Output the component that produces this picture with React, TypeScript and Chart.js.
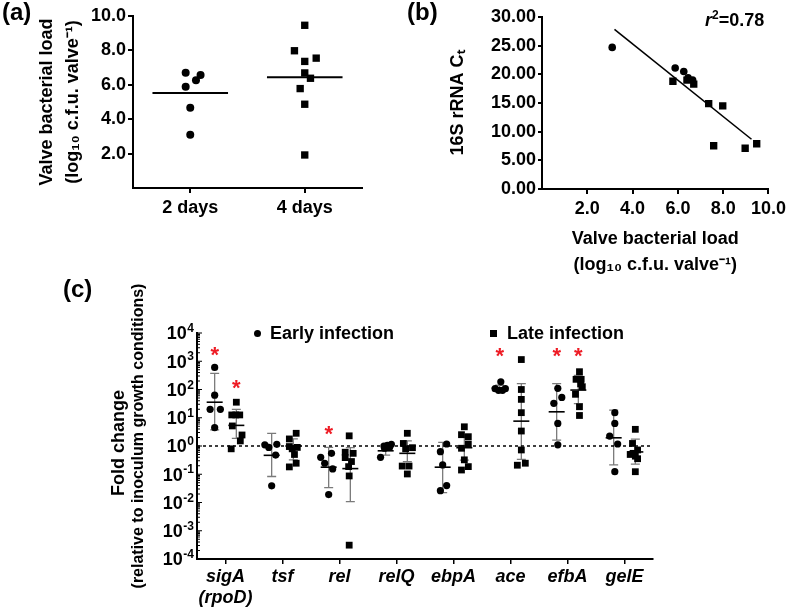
import React, { useEffect, useRef } from "react";
import { Chart, registerables } from "chart.js";

Chart.register(...registerables);

const FONT_FAMILY = "'Liberation Sans', Arial, Helvetica, sans-serif";
const STAR_RED = "#ee1c25";

// ---------------- Panel (a): valve bacterial load ----------------
const loadCategories = ["2 days", "4 days"];
const loadTwoDays = [6.7, 6.57, 6.26, 5.88, 4.66, 3.1];
const loadTwoDaysJitter = [-0.04, 0.09, 0.05, -0.04, 0, 0];
const loadFourDays = [9.46, 7.98, 7.55, 7.36, 6.69, 6.38, 5.78, 4.87, 1.92];
const loadFourDaysJitter = [0, -0.09, 0.1, 0, 0, 0.05, -0.04, 0, 0];
const loadTicks = [2, 4, 6, 8, 10];

// ---------------- Panel (b): 16S rRNA Ct vs load ----------------
const ctEarlyLoad = [3.1, 5.88, 6.26, 6.45, 6.65];
const ctEarlyValue = [24.7, 21.1, 20.5, 19.4, 19.0];
const ctLateLoad = [5.78, 6.4, 6.7, 7.36, 7.98, 7.58, 8.97, 9.48];
const ctLateValue = [18.8, 19.0, 18.3, 14.9, 14.5, 7.55, 7.1, 7.9];
const ctFitSlope = -3.17;
const ctFitIntercept = 38.0;
const ctFitRange = [3.2, 9.25];
const ctXTicks = [2, 4, 6, 8, 10];
const ctYTicks = [0, 5, 10, 15, 20, 25, 30];
const rSquared = "0.78";

// ---------------- Panel (c): fold change (log10 values) ----------------
const genes = ["sigA", "tsf", "rel", "relQ", "ebpA", "ace", "efbA", "gelE"];
const geneSecondLine = ["(rpoD)", "", "", "", "", "", "", ""];
const earlyLog10 = [
  [2.78, 1.8, 1.3, 1.3, 0.65],
  [0.04, -0.05, 0.06, -0.32, -1.41],
  [-0.26, -0.4, -0.61, -0.81, -1.72],
  [0.06, 0.02, 0.0, -0.04, -0.08, -0.4],
  [0.07, -0.2, -0.67, -1.4, -1.58],
  [2.27, 2.03, 1.97, 1.97, 2.03],
  [2.04, 1.72, 1.51, 0.8, 0.04],
  [1.18, 0.8, 0.35, 0.07, -0.91],
];
const earlyJitter = [
  [0, 0, -0.08, 0.1, 0],
  [-0.12, -0.05, 0.09, 0.07, 0],
  [0.05, -0.14, -0.07, 0.07, 0],
  [0.1, 0.03, -0.03, 0.07, -0.02, -0.09],
  [0.07, -0.04, 0, 0.07, -0.04],
  [0.02, -0.08, -0.02, 0.05, 0.1],
  [0.02, 0.09, -0.05, 0.02, 0.02],
  [0.02, 0.02, -0.07, 0.07, 0.02],
];
const lateLog10 = [
  [1.55, 1.1, 1.1, 1.1, 0.71, 0.39, 0.18, -0.1],
  [0.45, 0.25, -0.02, -0.05, -0.1, -0.3, -0.61, -0.74],
  [0.36, -0.22, -0.26, -0.41, -0.55, -0.73, -1.06, -3.51],
  [0.45, 0.09, -0.06, -0.1, -0.71, -0.71, -0.99],
  [0.68, 0.4, 0.33, 0.07, -0.08, -0.49, -0.73, -0.85],
  [3.06, 2.0, 1.65, 1.18, 0.53, -0.14, -0.61, -0.68],
  [2.63, 2.36, 2.36, 2.2, 2.1, 1.83, 1.39, 1.08],
  [0.59, 0.09, -0.14, -0.26, -0.36, -0.3, -0.45, -0.91],
];
const lateJitter = [
  [0, -0.08, -0.01, 0.06, -0.07, 0.1, 0.07, -0.09],
  [0.05, -0.07, -0.07, 0.07, -0.02, 0.02, 0.05, -0.07],
  [-0.02, -0.09, 0.05, -0.09, 0.02, -0.03, -0.02, -0.02],
  [0, -0.07, 0.09, -0.03, -0.09, 0.03, 0],
  [0, -0.05, 0.07, 0.07, -0.05, 0, 0.07, -0.05],
  [0, 0, 0, 0, 0, 0, 0.07, -0.07],
  [0.02, -0.04, 0.05, 0.04, 0.07, -0.05, 0.02, 0.02],
  [0, -0.05, 0.04, -0.04, 0, -0.09, 0.04, 0],
];
const earlyMeanLog10 = [1.55, -0.33, -0.75, -0.17, -0.75, 2.05, 1.21, 0.29];
const earlyLowLog10 = [0.57, -1.08, -1.47, -0.32, -1.65, 1.98, 0.21, -0.67];
const earlyHighLog10 = [2.57, 0.45, -0.05, 0.0, 0.13, 2.15, 2.21, 1.27];
const lateMeanLog10 = [0.73, 0.0, -0.8, -0.26, -0.06, 0.88, 1.98, -0.21];
const lateLowLog10 = [0.27, -0.49, -1.97, -0.55, -0.5, -0.47, 1.5, -0.64];
const lateHighLog10 = [1.3, 0.25, -0.06, 0.18, 0.4, 2.21, 2.5, 0.24];
const starGene = [0, 0, 2, 5, 6, 6];
const starGroup = ["early", "late", "early", "early", "early", "late"];
const starLog10 = [3.42, 2.24, 0.62, 3.39, 3.39, 3.39];
const foldTicksLog10 = [-4, -3, -2, -1, 0, 1, 2, 3, 4];
const GROUP_OFFSET = 0.19;

// ---------------- shared styling helpers ----------------
const tickFont: any = { family: FONT_FAMILY, size: 18, weight: "bold" };
const titleFont: any = { family: FONT_FAMILY, size: 18, weight: "bold", lineHeight: 1.45 };
const axisBorder = { display: true, color: "#000", width: 2 };
const outwardGrid = (len: number, width = 2) => ({
  display: true,
  drawOnChartArea: false,
  drawTicks: len > 0,
  tickLength: len,
  color: "#000",
  lineWidth: width,
});
const fixedTicks = (values: number[]) => (axis: any) => {
  axis.ticks = values.map((value) => ({ value }));
};
const mean = (arr: number[]) => arr.reduce((s, v) => s + v, 0) / arr.length;
const SUP: Record<string, string> = { "-": "⁻", "0": "⁰", "1": "¹", "2": "²", "3": "³", "4": "⁴" };
const toSuper = (n: number) => String(n).split("").map((c) => SUP[c] || c).join("");
const baseOptions = {
  responsive: false,
  animation: false,
  devicePixelRatio: 1,
  events: [],
};

// ---------------- Panel (a) ----------------
function buildLoadChart(): any {
  const m2 = mean(loadTwoDays);
  const m4 = mean(loadFourDays);
  return {
    type: "scatter",
    data: {
      datasets: [
        {
          label: loadCategories[0],
          data: loadTwoDays.map((v, i) => ({ x: 0.5 + loadTwoDaysJitter[i], y: v })),
          pointStyle: "circle",
          pointRadius: 4,
          backgroundColor: "#000",
          borderColor: "#000",
          borderWidth: 0,
        },
        {
          label: loadCategories[1],
          data: loadFourDays.map((v, i) => ({ x: 1.5 + loadFourDaysJitter[i], y: v })),
          pointStyle: "rect",
          pointRadius: 5.2,
          backgroundColor: "#000",
          borderColor: "#000",
          borderWidth: 0,
        },
        {
          label: "mean 2 days",
          data: [{ x: 0.5 - 0.33, y: m2 }, { x: 0.5 + 0.33, y: m2 }],
          showLine: true,
          borderColor: "#000",
          borderWidth: 2,
          pointRadius: 0,
        },
        {
          label: "mean 4 days",
          data: [{ x: 1.5 - 0.33, y: m4 }, { x: 1.5 + 0.33, y: m4 }],
          showLine: true,
          borderColor: "#000",
          borderWidth: 2,
          pointRadius: 0,
        },
      ],
    },
    options: {
      ...baseOptions,
      layout: { padding: { top: 16, right: 18, bottom: 0, left: 0 } },
      plugins: { legend: { display: false }, tooltip: { enabled: false } },
      scales: {
        x: {
          type: "linear",
          min: 0,
          max: 2,
          afterBuildTicks: fixedTicks([0.5, 1.5]),
          afterFit: (ax: any) => { ax.height = 52; },
          ticks: {
            callback: (v: number) => loadCategories[Math.round(v - 0.5)],
            font: tickFont, color: "#000", padding: 4, maxRotation: 0, minRotation: 0, autoSkip: false,
          },
          grid: outwardGrid(5),
          border: axisBorder,
        },
        y: {
          type: "linear",
          min: 0,
          max: 10,
          afterBuildTicks: fixedTicks(loadTicks),
          afterFit: (ax: any) => { ax.width = 133; },
          ticks: {
            callback: (v: number) => Number(v).toFixed(1),
            font: tickFont, color: "#000", padding: 2, autoSkip: false,
          },
          grid: outwardGrid(5),
          border: axisBorder,
          title: {
            display: true,
            text: ["Valve bacterial load", "(log₁₀ c.f.u. valve⁻¹)"],
            font: titleFont,
            color: "#000",
            padding: { top: 34, bottom: 0 },
          },
        },
      },
    },
  };
}

// ---------------- Panel (b) ----------------
function buildCtChart(): any {
  return {
    type: "scatter",
    data: {
      datasets: [
        {
          label: "Early infection",
          data: ctEarlyLoad.map((x, i) => ({ x, y: ctEarlyValue[i] })),
          pointStyle: "circle",
          pointRadius: 3.8,
          backgroundColor: "#000",
          borderColor: "#000",
          borderWidth: 0,
        },
        {
          label: "Late infection",
          data: ctLateLoad.map((x, i) => ({ x, y: ctLateValue[i] })),
          pointStyle: "rect",
          pointRadius: 5.2,
          backgroundColor: "#000",
          borderColor: "#000",
          borderWidth: 0,
        },
        {
          label: "Linear fit",
          data: ctFitRange.map((x) => ({ x, y: ctFitIntercept + ctFitSlope * x })),
          showLine: true,
          borderColor: "#000",
          borderWidth: 1.6,
          pointRadius: 0,
        },
      ],
    },
    options: {
      ...baseOptions,
      layout: { padding: { top: 17, right: 18, bottom: 0, left: 0 } },
      plugins: { legend: { display: false }, tooltip: { enabled: false } },
      scales: {
        x: {
          type: "linear",
          min: 0,
          max: 10,
          afterBuildTicks: fixedTicks(ctXTicks),
          afterFit: (ax: any) => { ax.height = 101; },
          ticks: {
            callback: (v: number) => Number(v).toFixed(1),
            font: tickFont, color: "#000", padding: 4, maxRotation: 0, minRotation: 0, autoSkip: false,
          },
          grid: outwardGrid(5),
          border: axisBorder,
          title: {
            display: true,
            text: ["Valve bacterial load", "(log₁₀ c.f.u. valve⁻¹)"],
            font: titleFont,
            color: "#000",
            padding: { top: 0, bottom: 12 },
          },
        },
        y: {
          type: "linear",
          min: 0,
          max: 30,
          afterBuildTicks: fixedTicks(ctYTicks),
          afterFit: (ax: any) => { ax.width = 162; },
          ticks: {
            callback: (v: number) => Number(v).toFixed(2),
            font: tickFont, color: "#000", padding: 2, autoSkip: false,
          },
          grid: outwardGrid(4),
          border: axisBorder,
          title: {
            display: true,
            text: "16S rRNA Cₜ",
            font: titleFont,
            color: "#000",
            padding: { top: 65, bottom: 0 },
          },
        },
      },
    },
  };
}

// ---------------- Panel (c) ----------------
const groupSummaryPlugin = {
  id: "groupSummary",
  beforeDatasetsDraw(chart: any) {
    const { ctx } = chart;
    const x = chart.scales.x;
    const y = chart.scales.y;
    const groups = [
      { offset: -GROUP_OFFSET, m: earlyMeanLog10, lo: earlyLowLog10, hi: earlyHighLog10 },
      { offset: GROUP_OFFSET, m: lateMeanLog10, lo: lateLowLog10, hi: lateHighLog10 },
    ];
    ctx.save();
    groups.forEach((g) => {
      genes.forEach((_, i) => {
        const cx = x.getPixelForValue(i + 0.5 + g.offset);
        const yLo = y.getPixelForValue(10 ** g.lo[i]);
        const yHi = y.getPixelForValue(10 ** g.hi[i]);
        const yM = y.getPixelForValue(10 ** g.m[i]);
        ctx.strokeStyle = "#7a7a7a";
        ctx.lineWidth = 1.3;
        ctx.beginPath();
        ctx.moveTo(cx, yLo);
        ctx.lineTo(cx, yHi);
        ctx.moveTo(cx - 4.5, yLo);
        ctx.lineTo(cx + 4.5, yLo);
        ctx.moveTo(cx - 4.5, yHi);
        ctx.lineTo(cx + 4.5, yHi);
        ctx.stroke();
        ctx.strokeStyle = "#000";
        ctx.lineWidth = 1.6;
        ctx.beginPath();
        ctx.moveTo(cx - 8, yM);
        ctx.lineTo(cx + 8, yM);
        ctx.stroke();
      });
    });
    ctx.restore();
  },
};

const starsPlugin = {
  id: "significanceStars",
  afterDatasetsDraw(chart: any) {
    const { ctx } = chart;
    const x = chart.scales.x;
    const y = chart.scales.y;
    const size = 22;
    ctx.save();
    ctx.fillStyle = STAR_RED;
    ctx.font = `bold ${size}px ${FONT_FAMILY}`;
    ctx.textAlign = "center";
    ctx.textBaseline = "alphabetic";
    starGene.forEach((gi, k) => {
      const off = starGroup[k] === "early" ? -GROUP_OFFSET : GROUP_OFFSET;
      const px = x.getPixelForValue(gi + 0.5 + off);
      const py = y.getPixelForValue(10 ** starLog10[k]);
      ctx.fillText("*", px, py + 0.58 * size);
    });
    ctx.restore();
  },
};

// inward major/minor ticks and power-of-ten labels with true superscripts
const logAxisPlugin = {
  id: "logAxisDecor",
  afterDraw(chart: any) {
    const { ctx, chartArea } = chart;
    const y = chart.scales.y;
    ctx.save();
    ctx.strokeStyle = "#000";
    ctx.lineWidth = 1.2;
    ctx.beginPath();
    foldTicksLog10.forEach((e, idx) => {
      const py = y.getPixelForValue(10 ** e);
      ctx.moveTo(chartArea.left, py);
      ctx.lineTo(chartArea.left + 5, py);
      if (idx < foldTicksLog10.length - 1) {
        for (let k = 2; k <= 9; k++) {
          const pm = y.getPixelForValue(k * 10 ** e);
          ctx.moveTo(chartArea.left, pm);
          ctx.lineTo(chartArea.left + 3, pm);
        }
      }
    });
    ctx.stroke();

    ctx.fillStyle = "#000";
    ctx.textBaseline = "alphabetic";
    ctx.textAlign = "left";
    const right = chartArea.left - 3;
    foldTicksLog10.forEach((e) => {
      const py = y.getPixelForValue(10 ** e);
      const expText = String(e);
      ctx.font = `bold 12px ${FONT_FAMILY}`;
      const expW = ctx.measureText(expText).width;
      ctx.font = `bold 18px ${FONT_FAMILY}`;
      const baseW = ctx.measureText("10").width;
      const startX = right - expW - baseW - 0.5;
      ctx.fillText("10", startX, py + 6.4);
      ctx.font = `bold 12px ${FONT_FAMILY}`;
      ctx.fillText(expText, startX + baseW + 0.5, py - 1);
    });
    ctx.restore();
  },
};

function buildFoldChart(): any {
  const early = earlyLog10.flatMap((vals, i) =>
    vals.map((v, j) => ({ x: i + 0.5 - GROUP_OFFSET + earlyJitter[i][j], y: 10 ** v }))
  );
  const late = lateLog10.flatMap((vals, i) =>
    vals.map((v, j) => ({ x: i + 0.5 + GROUP_OFFSET + lateJitter[i][j], y: 10 ** v }))
  );
  return {
    type: "scatter",
    data: {
      datasets: [
        {
          label: "Early infection",
          data: early,
          pointStyle: "circle",
          pointRadius: 3.6,
          backgroundColor: "#000",
          borderColor: "#000",
          borderWidth: 0,
        },
        {
          label: "Late infection",
          data: late,
          pointStyle: "rect",
          pointRadius: 4.8,
          backgroundColor: "#000",
          borderColor: "#000",
          borderWidth: 0,
        },
        {
          label: "No change",
          data: [{ x: 0, y: 1 }, { x: genes.length, y: 1 }],
          showLine: true,
          borderColor: "#000",
          borderWidth: 1.5,
          borderDash: [3, 3],
          pointRadius: 0,
        },
      ],
    },
    plugins: [groupSummaryPlugin, starsPlugin, logAxisPlugin],
    options: {
      ...baseOptions,
      layout: { padding: { top: 63, right: 137, bottom: 0, left: 0 } },
      plugins: { legend: { display: false }, tooltip: { enabled: false } },
      scales: {
        x: {
          type: "linear",
          min: 0,
          max: genes.length,
          afterBuildTicks: fixedTicks(genes.map((_, i) => i + 0.5)),
          afterFit: (ax: any) => { ax.height = 49; },
          ticks: {
            callback: (v: number) => {
              const i = Math.round(v - 0.5);
              return geneSecondLine[i] ? [genes[i], geneSecondLine[i]] : genes[i];
            },
            font: { ...tickFont, style: "italic" },
            color: "#000",
            padding: 2,
            maxRotation: 0,
            minRotation: 0,
            autoSkip: false,
          },
          grid: outwardGrid(5, 1.5),
          border: axisBorder,
        },
        y: {
          type: "logarithmic",
          min: 1e-4,
          max: 1e4,
          afterBuildTicks: fixedTicks(foldTicksLog10.map((e) => 10 ** e)),
          afterFit: (ax: any) => { ax.width = 197; },
          ticks: {
            display: false,
            callback: (v: number) => "10" + toSuper(Math.round(Math.log10(v))),
            font: tickFont,
            color: "#000",
            padding: 3,
            autoSkip: false,
          },
          grid: outwardGrid(0),
          border: axisBorder,
        },
      },
    },
  };
}

// ---------------- components ----------------
function ChartPanel({ left, top, width, height, build }: any) {
  const ref = useRef<HTMLCanvasElement | null>(null);
  useEffect(() => {
    if (!ref.current) return;
    const chart = new Chart(ref.current, build());
    return () => chart.destroy();
  }, [build]);
  return (
    <canvas
      ref={ref}
      width={width}
      height={height}
      style={{ position: "absolute", left, top, width, height }}
    />
  );
}

const textBase: React.CSSProperties = {
  position: "absolute",
  fontFamily: FONT_FAMILY,
  fontWeight: "bold",
  color: "#000",
  whiteSpace: "nowrap",
  lineHeight: 1,
};

export default function App() {
  return (
    <div
      style={{
        position: "absolute",
        left: 0,
        top: 0,
        width: 790,
        height: 608,
        background: "#fff",
        overflow: "hidden",
      }}
    >
      <ChartPanel left={0} top={0} width={380} height={240} build={buildLoadChart} />
      <ChartPanel left={380} top={0} width={410} height={290} build={buildCtChart} />
      <ChartPanel left={0} top={270} width={790} height={338} build={buildFoldChart} />

      <div style={{ ...textBase, left: 2, top: 0, fontSize: 24 }}>(a)</div>
      <div style={{ ...textBase, left: 407, top: 0, fontSize: 24 }}>(b)</div>
      <div style={{ ...textBase, left: 63, top: 277, fontSize: 24 }}>(c)</div>

      <div style={{ ...textBase, left: 705, top: 11, fontSize: 18 }}>
        <i>r</i>
        <sup style={{ fontSize: 12, lineHeight: 0 }}>2</sup>={rSquared}
      </div>

      {/* legend of panel (c) */}
      <div
        style={{
          position: "absolute",
          left: 253.5,
          top: 329.5,
          width: 7,
          height: 7,
          borderRadius: "50%",
          background: "#000",
        }}
      />
      <div style={{ ...textBase, left: 270, top: 324, fontSize: 18 }}>Early infection</div>
      <div
        style={{
          position: "absolute",
          left: 489.5,
          top: 329.5,
          width: 7,
          height: 7,
          background: "#000",
        }}
      />
      <div style={{ ...textBase, left: 507, top: 324, fontSize: 18 }}>Late infection</div>

      {/* y-axis title of panel (c) */}
      <div
        style={{
          ...textBase,
          left: 118,
          top: 443,
          fontSize: 18,
          transform: "translate(-50%, -50%) rotate(-90deg)",
        }}
      >
        Fold change
      </div>
      <div
        style={{
          ...textBase,
          left: 138,
          top: 436,
          fontSize: 16,
          transform: "translate(-50%, -50%) rotate(-90deg)",
        }}
      >
        (relative to inoculum growth conditions)
      </div>
    </div>
  );
}
